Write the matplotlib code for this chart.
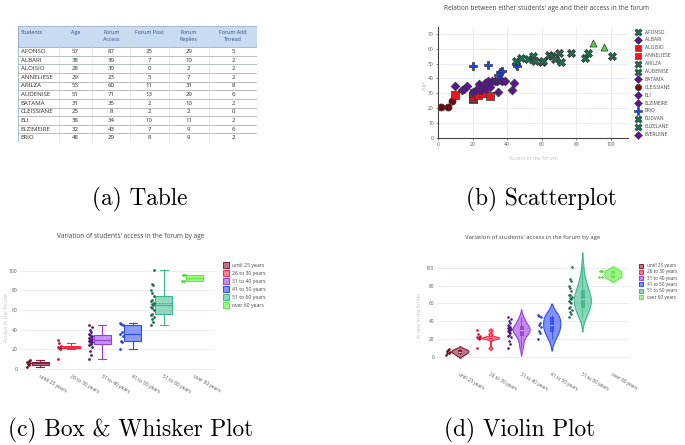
import numpy as np
import matplotlib.pyplot as plt
from matplotlib.colors import to_rgba
from matplotlib.patches import Rectangle

W, H = 685, 445

# (a) table of students
table_header = ['Students', 'Age', 'Forum\nAccess', 'Forum Post', 'Forum\nReplies', 'Forum Add\nThread']
students = ['AFONSO', 'ALBARI', 'ALOISIO', 'ANNELIESE', 'ARILZA', 'AUDENISE',
            'BATAMA', 'CLEISSIANE', 'ELI', 'ELZIMEIRE', 'ERIO']
ages = [57, 38, 28, 29, 53, 51, 31, 25, 38, 32, 48]
forum_access = [87, 39, 30, 23, 60, 71, 35, 8, 34, 43, 29]
forum_post = [25, 7, 0, 5, 11, 13, 2, 2, 10, 7, 8]
forum_replies = [29, 10, 2, 7, 31, 29, 10, 2, 11, 9, 9]
forum_add_thread = [5, 2, 2, 2, 8, 6, 2, 0, 2, 6, 2]

# (b) scatter: access in the forum vs age
scatter_access = [2, 6, 8,
                  10, 20, 20, 20, 21, 23, 26, 30,
                  10, 14, 15, 17, 20, 22, 24, 25, 26, 27, 28, 29, 30, 31, 33, 34, 35, 36, 37, 39, 43, 44,
                  20, 29, 35, 36, 37, 45, 46,
                  45, 48, 52, 55, 56, 60, 61, 64, 66, 68, 70, 71, 77, 85, 87, 101,
                  90, 96]
scatter_age = [21, 21, 25,
               29, 26, 27, 28, 30, 29, 30, 28,
               35, 32, 33, 35, 31, 32, 36, 32, 34, 37, 33, 38, 34, 38, 38, 38, 31, 39, 38, 38, 32, 37,
               48, 49, 42, 44, 45, 50, 48,
               52, 54, 53, 55, 52, 51, 52, 56, 55, 53, 57, 51, 57, 54, 57, 55,
               64, 61]
legend_students = ['AFONSO', 'ALBARI', 'ALOISIO', 'ANNELIESE', 'ARILZA', 'AUDENISE', 'BATAMA',
                   'CLEISSIANE', 'ELI', 'ELZIMEIRE', 'ERIO', 'EUDVAN', 'EUZELANE', 'EVERLENE']
legend_ages = [57, 38, 28, 29, 53, 51, 31, 25, 38, 32, 48, 55, 52, 35]

# (c)/(d) access by age group
age_groups = ['until 25 years', '26 to 30 years', '31 to 40 years',
              '41 to 50 years', '51 to 60 years', 'over 60 years']
access_until25 = [2, 4, 5, 6, 7, 8, 9]
access_26_30 = [10, 20, 21, 21, 22, 22, 23, 26, 30]
access_31_40 = [10, 14, 18, 22, 24, 25, 27, 28, 29, 30, 30, 31, 32, 33, 34, 35, 36, 38, 40, 43, 45]
access_41_50 = [20, 27, 29, 34, 36, 38, 45, 46, 47]
access_51_60 = [45, 48, 51, 53, 55, 56, 60, 62, 63, 65, 66, 67, 69, 70, 74, 77, 80, 85, 87, 101]
access_over60 = [90, 90, 96, 96]
group_data = [access_until25, access_26_30, access_31_40, access_41_50, access_51_60, access_over60]

group_colors = ['#8c1c3c', '#ff2845', '#9a3ee0', '#2e4cf5', '#3cb888', '#5eee40']
point_colors = ['#6e1024', '#c8142e', '#4e1878', '#2340e0', '#1f6e50', '#4fd63a']
sc_markers = ['o', 's', 'D', 'P', 'X', '^']
sc_colors = ['#6b0b0b', '#f0141e', '#5a1691', '#1d43e8', '#1b6e50', '#58d43a']
sc_sizes = [26, 26, 20, 34, 34, 26]

plt.rcParams['font.family'] = ['Open Sans', 'DejaVu Sans']
fig = plt.figure(figsize=(W / 100, H / 100), dpi=100)


def px_rect(left, top, right, bottom):
    return [left / W, 1 - bottom / H, (right - left) / W, (bottom - top) / H]


def age_group(a):
    return int(np.searchsorted([25, 30, 40, 50, 60], a, side='left'))


tick_col = '#555555'
grid_col = '#e6ebf2'
label_col = '#b8c0cc'
title_col = '#444444'

# ---------------- (a) table
axt = fig.add_axes(px_rect(18, 26, 257, 142))
axt.set_xlim(0, 1)
axt.set_ylim(len(students) + 2.45, 0)
axt.axis('off')
col_edges = [0, 0.17, 0.31, 0.47, 0.63, 0.80, 1.0]
head_h = 2.45
axt.add_patch(Rectangle((0, 0), 1, head_h, fc='#c9dbf0', ec='#8ea4c0', lw=0.5))
for j, name in enumerate(table_header):
    xc = col_edges[j] + 0.012 if j == 0 else (col_edges[j] + col_edges[j + 1]) / 2
    axt.text(xc, 0.5, name, ha='left' if j == 0 else 'center', va='top',
             fontsize=3.9, color='#2f4f80', linespacing=1.3)
columns = [students, ages, forum_access, forum_post, forum_replies, forum_add_thread]
for r in range(len(students)):
    yc = head_h + r + 0.5
    axt.axhline(head_h + r + 1, color='#8f98a4', lw=0.45)
    for j, col in enumerate(columns):
        xc = col_edges[j] + 0.012 if j == 0 else (col_edges[j] + col_edges[j + 1]) / 2
        axt.text(xc, yc, str(col[r]), ha='left' if j == 0 else 'center', va='center',
                 fontsize=4.4, color='#2a2a2a')
for x in col_edges[1:-1]:
    axt.plot([x, x], [0, len(students) + head_h], color='#d3d9e0', lw=0.4)
axt.plot([0, 0], [0, len(students) + head_h], color='#8ea4c0', lw=0.5)
axt.plot([1, 1], [0, len(students) + head_h], color='#d3d9e0', lw=0.4)

# ---------------- (b) scatter
axs = fig.add_axes(px_rect(438, 27, 628, 138))
sc_groups = np.array([age_group(a) for a in scatter_age])
acc = np.array(scatter_access)
agev = np.array(scatter_age)
for g in range(6):
    m = sc_groups == g
    axs.scatter(acc[m], agev[m], marker=sc_markers[g], s=sc_sizes[g], c=sc_colors[g],
                edgecolors='#333333', linewidths=0.5, zorder=3)
axs.set_xlim(0, 110)
axs.set_ylim(0, 74.5)
axs.set_xticks(range(0, 101, 20))
axs.set_yticks(range(0, 71, 10))
axs.grid(color=grid_col, lw=0.6)
axs.set_axisbelow(True)
for s in ['top', 'right']:
    axs.spines[s].set_visible(False)
for s in ['left', 'bottom']:
    axs.spines[s].set_color('#444444')
    axs.spines[s].set_linewidth(0.8)
axs.tick_params(labelsize=3.6, colors=tick_col, length=1.5, width=0.5, pad=1.5)

# ---------------- (c) box plot
axb = fig.add_axes(px_rect(20, 255, 215, 371))
jit = np.array([-0.05, 0.02, -0.02, 0.05, -0.04, 0.0, 0.035, -0.01])
for i, vals in enumerate(group_data):
    c = group_colors[i]
    axb.boxplot([vals], positions=[i], widths=0.55, patch_artist=True, showmeans=True,
                meanline=True, showfliers=False, capwidths=0.28,
                boxprops=dict(facecolor=to_rgba(c, 0.55), edgecolor=c, linewidth=0.8),
                whiskerprops=dict(color=c, linewidth=0.8),
                capprops=dict(color=c, linewidth=0.8),
                medianprops=dict(color=c, linewidth=0.9),
                meanprops=dict(color=c, linewidth=0.7, linestyle=(0, (2, 1))))
    xs = i - 0.37 + jit[np.arange(len(vals)) % len(jit)]
    axb.scatter(xs, vals, s=4, color=point_colors[i], lw=0, zorder=3)
axb.set_xlim(-0.65, 5.65)
axb.set_ylim(-2, 116)
axb.set_yticks(range(0, 101, 20))
axb.set_xticks(range(6))
axb.set_xticklabels(age_groups, rotation=-30, ha='left', va='top', rotation_mode='anchor')
axb.grid(axis='y', color=grid_col, lw=0.6)
axb.set_axisbelow(True)
for s in axb.spines.values():
    s.set_visible(False)
axb.tick_params(labelsize=3.6, colors=tick_col, length=0, pad=2)

# ---------------- (d) violin plot
axv = fig.add_axes(px_rect(437, 250, 630, 369))


def kde_curve(vals):
    v = np.asarray(vals, float)
    q1, q3 = np.percentile(v, [25, 75])
    bw = 1.059 * min(v.std(ddof=1), (q3 - q1) / 1.349) * len(v) ** -0.2
    grid = np.linspace(v.min() - 2 * bw, v.max() + 2 * bw, 200)
    dens = np.exp(-0.5 * ((grid[:, None] - v[None, :]) / bw) ** 2).sum(axis=1)
    return grid, dens / dens.max()


for i, vals in enumerate(group_data):
    c = group_colors[i]
    yy, dd = kde_curve(vals)
    half = 0.28 * dd
    axv.fill_betweenx(yy, i - half, i + half, facecolor=to_rgba(c, 0.6), edgecolor=c, lw=0.8)
    q1, med, q3 = np.percentile(vals, [25, 50, 75])
    axv.vlines(i, min(vals), max(vals), color=c, lw=0.6)
    axv.add_patch(Rectangle((i - 0.05, q1), 0.1, q3 - q1, fc=to_rgba(c, 0.8), ec=c, lw=0.6))
    axv.hlines(med, i - 0.05, i + 0.05, color='white', lw=0.5)
    xs = i - 0.39 + jit[np.arange(len(vals)) % len(jit)]
    axv.scatter(xs, vals, s=3.5, color=point_colors[i], lw=0, zorder=3)
axv.set_xlim(-0.75, 5.56)
axv.set_ylim(-13.5, 120)
axv.set_yticks(range(0, 101, 20))
axv.set_xticks(range(6))
axv.set_xticklabels(age_groups, rotation=-30, ha='left', va='top', rotation_mode='anchor')
axv.grid(axis='y', color=grid_col, lw=0.6)
axv.set_axisbelow(True)
for s in axv.spines.values():
    s.set_visible(False)
axv.tick_params(labelsize=3.4, colors=tick_col, length=0, pad=2)

# ---------------- overlay: titles, labels, legends, captions (pixel coordinates)
ov = fig.add_axes([0, 0, 1, 1], zorder=10)
ov.set_xlim(0, W)
ov.set_ylim(H, 0)
ov.axis('off')

ov.text(547, 8, "Relation between either students' age and their access in the forum",
        ha='center', va='center', fontsize=4.7, color=title_col)
ov.text(533, 158, 'Access in the forum', ha='center', va='center', fontsize=3.8, color=label_col)
ov.text(425, 85, 'Age', ha='center', va='center', rotation=90, fontsize=3.8, color=label_col)

ov.text(131, 237, "Variation of students' access in the forum by age",
        ha='center', va='center', fontsize=4.7, color=title_col)
ov.text(7, 318, 'Access in the forum', ha='center', va='center', rotation=90,
        fontsize=3.8, color=label_col)

ov.text(533, 237, "Variation of students' access in the forum by age",
        ha='center', va='center', fontsize=4.3, color=title_col)
ov.text(420, 315, 'Access in the forum', ha='center', va='center', rotation=90,
        fontsize=3.6, color=label_col)

# scatter legend
for k, (nm, a) in enumerate(zip(legend_students, legend_ages)):
    g = age_group(a)
    y = 32 + 7.9 * k
    ov.scatter([638], [y], marker=sc_markers[g], s=sc_sizes[g] * 0.8, c=sc_colors[g],
               edgecolors='#333333', linewidths=0.4)
    ov.text(645, y, nm, ha='left', va='center', fontsize=3.5, color='#444444')

# box / violin legends
for k, nm in enumerate(age_groups):
    c = group_colors[k]
    y = 265 + 8 * k
    ov.scatter([226], [y], marker='s', s=15, facecolor=to_rgba(c, 0.6), edgecolor=c, linewidths=0.7)
    ov.text(232, y, nm, ha='left', va='center', fontsize=3.7, color='#444444')
    y = 265.5 + 6.3 * k
    ov.scatter([641], [y], marker='s', s=12, facecolor=to_rgba(c, 0.6), edgecolor=c, linewidths=0.7)
    ov.text(647, y, nm, ha='left', va='center', fontsize=3.3, color='#444444')

cap_font = dict(family='cmr10', fontsize=16.8, color='black', ha='center', va='center')
ov.text(140, 199, '(a) Table', **cap_font)
ov.text(541, 199, '(b) Scatterplot', **cap_font)
ov.text(131, 430, '(c) Box & Whisker Plot', **cap_font)
ov.text(520, 430, '(d) Violin Plot', **cap_font)

fig.savefig('out.png', dpi=100)
